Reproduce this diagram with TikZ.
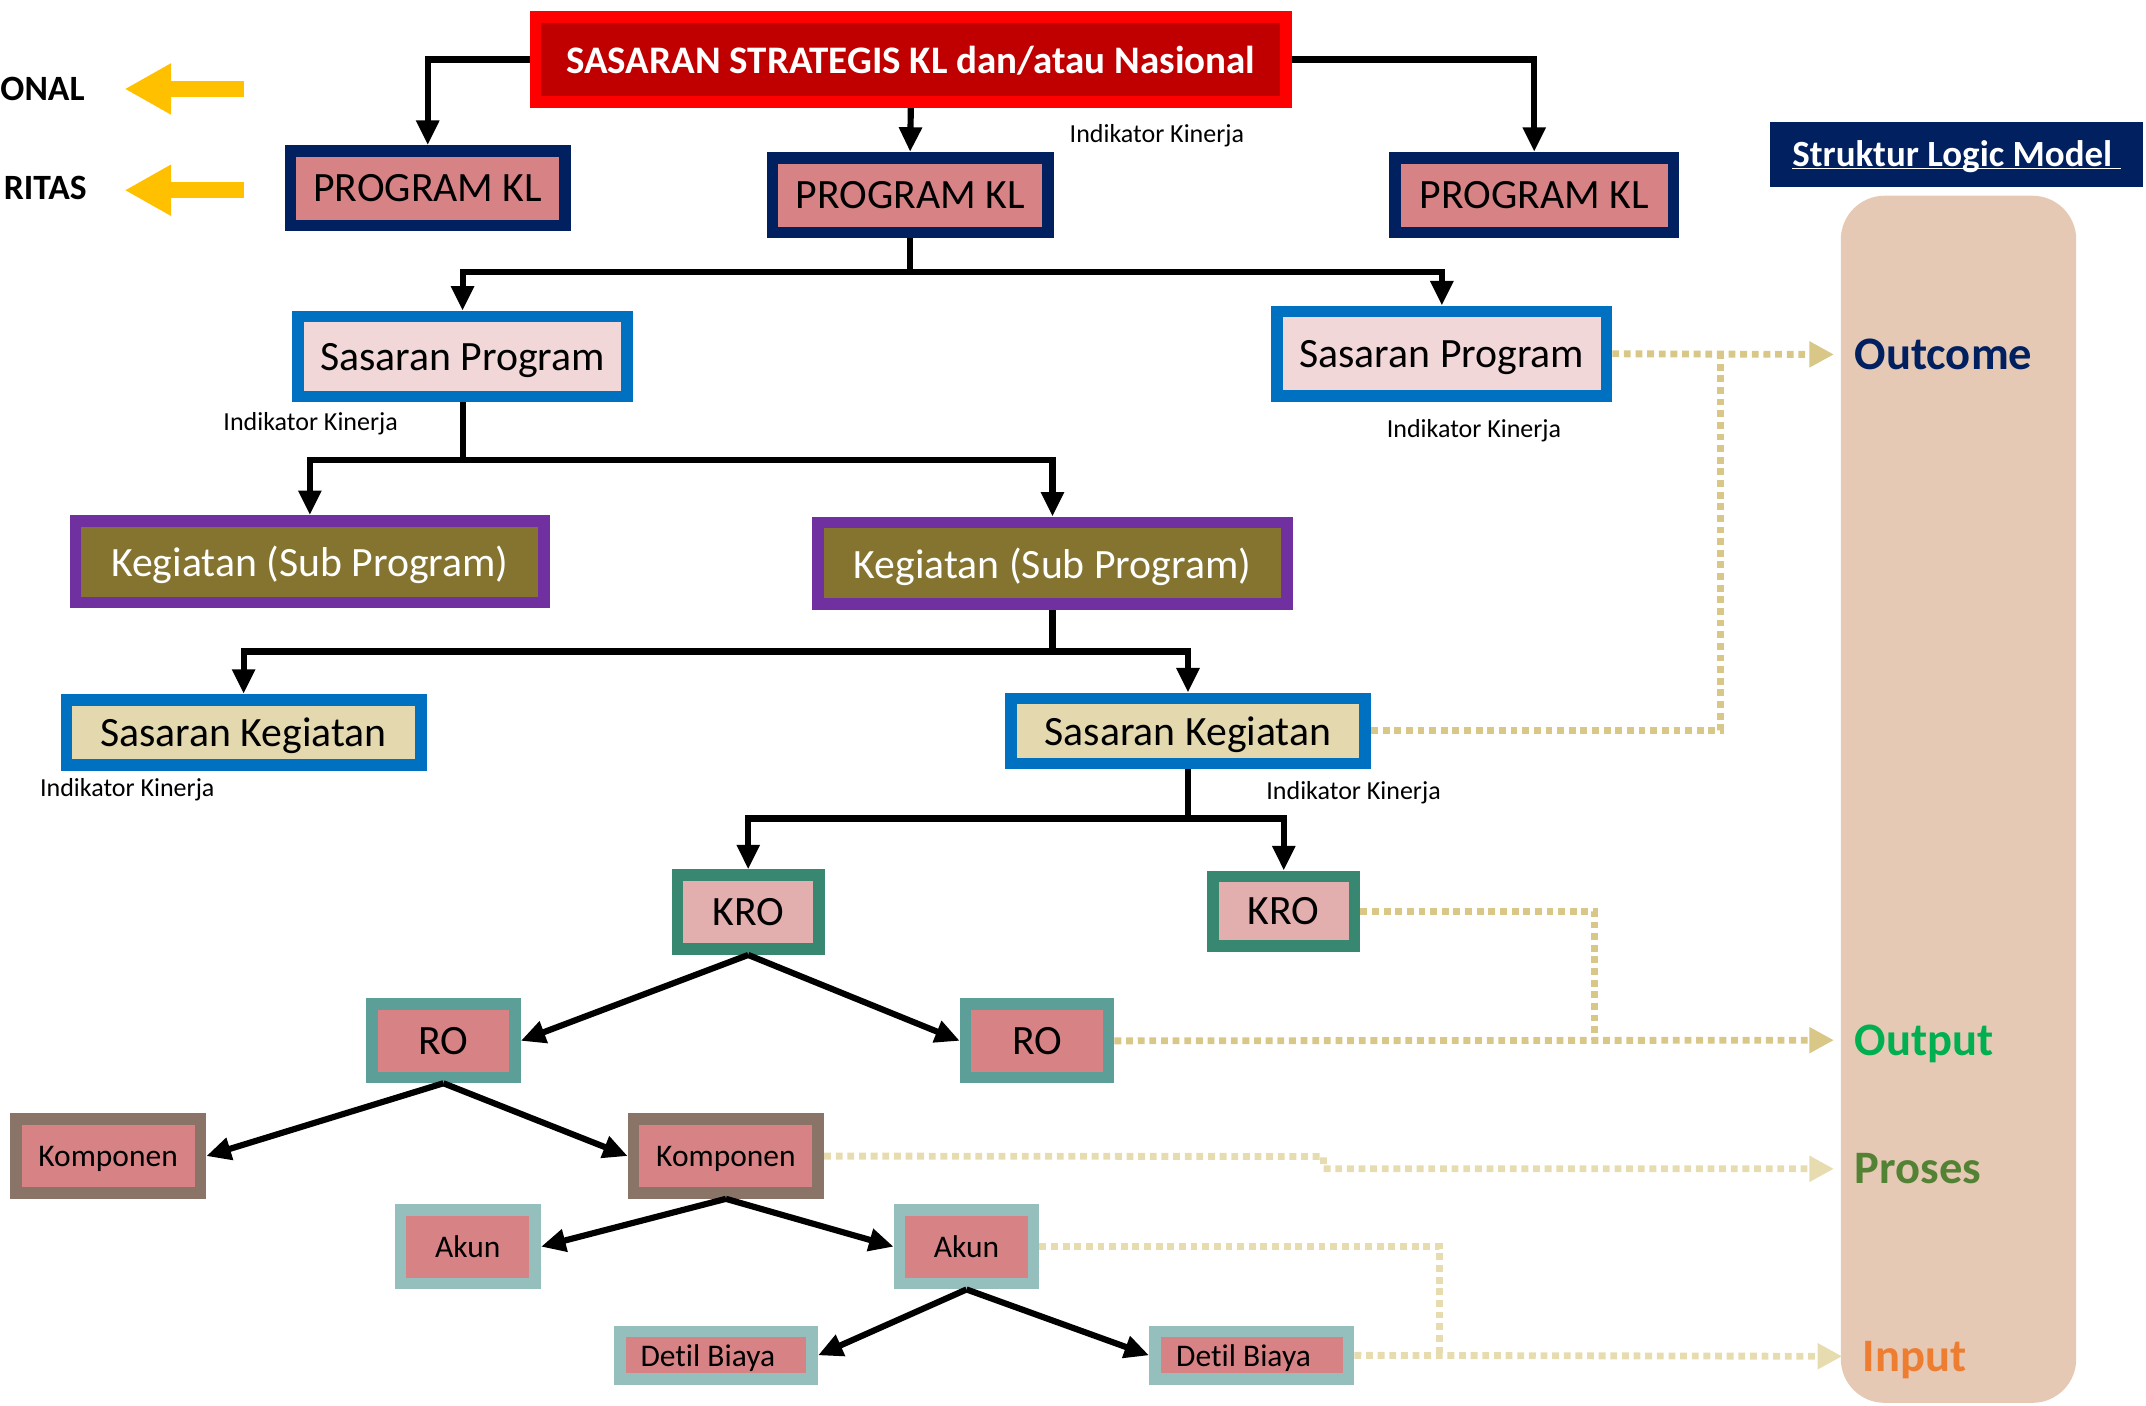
\documentclass[tikz,border=0pt]{standalone}
\usepackage{fontspec}
\setmainfont{Carlito}[Ligatures=NoCommon]
\usepackage{tikz}
\usetikzlibrary{%
  arrows.meta%
}

\definecolor{biruTua}{RGB}{0,32,96}
\definecolor{merahTua}{RGB}{192,0,0}
\definecolor{merah}{RGB}{255,0,0}
\definecolor{merahMuda}{RGB}{215,131,133}
\definecolor{biru}{RGB}{0,112,192}
\definecolor{pinkMuda}{RGB}{242,215,217}
\definecolor{ungu}{RGB}{112,48,160}
\definecolor{zaitun}{RGB}{133,116,48}
\definecolor{krem}{RGB}{228,217,174}
\definecolor{hijauKRO}{RGB}{56,135,112}
\definecolor{pinkKRO}{RGB}{227,174,174}
\definecolor{tealRO}{RGB}{92,158,152}
\definecolor{coklat}{RGB}{138,116,104}
\definecolor{tealMuda}{RGB}{149,191,189}
\definecolor{persik}{RGB}{230,201,181}
\definecolor{emas}{RGB}{255,192,0}
\definecolor{tanTua}{RGB}{216,199,134}
\definecolor{tanMuda}{RGB}{230,220,175}
\definecolor{hijauOut}{RGB}{0,176,80}
\definecolor{hijauPro}{RGB}{84,130,53}
\definecolor{oranye}{RGB}{237,125,49}

\newcommand{\ukf}[1]{\fontsize{#1}{#1}\selectfont}

\tikzset{
  kotak/.style={draw, line width=8.5pt, inner sep=0pt, text depth=0pt, font=\ukf{30.5}},
  ukuran/.style 2 args={minimum width=#1pt, minimum height=#2pt},
  kecil/.style={kotak, font=\ukf{23}},
  panah/.style={line width=4.5pt, -{Triangle[length=18pt,width=16pt]}},
  titik/.style={draw=tanTua, line width=5pt, dash pattern=on 5pt off 3.5pt},
  titikmuda/.style={titik, draw=tanMuda},
  ujung/.style={-{Triangle[length=18pt,width=18pt]}},
  ik/.style={inner sep=0pt, text depth=0pt, font=\ukf{19}},
  lm/.style={anchor=west, inner xsep=15pt, inner ysep=0pt, text depth=0pt, font=\bfseries\ukf{34}},
  kiri/.style={anchor=east, inner sep=0pt, text depth=0pt, font=\bfseries\ukf{26}},
  kuning/.style={draw=emas, line width=11.5pt, -{Triangle[length=34pt,width=35pt]}}
}

\begin{document}
\begin{tikzpicture}[x=1pt,y=-1pt]
    \useasboundingbox (0,0) rectangle (1568,1027);

    % logic model bar
    \fill[persik, rounded corners=32pt] (1345,143) rectangle (1517,1025);
    \node[fill=biruTua, ukuran={273}{47}, inner sep=0pt, text=white, font=\bfseries\ukf{27},
      text height=17.8pt, text depth=0pt] (judul) at (1429.5,112.9)
      {\underline{\smash{Struktur Logic Model}\ }};

    % left side
    \node[kiri] (onal) at (62,65) {ONAL};
    \node[kiri] (ritas) at (63.5,137) {RITAS};
    \coordinate (y1a) at (178,65);
    \coordinate (y1b) at (91,65);
    \coordinate (y2a) at (178,139);
    \coordinate (y2b) at (91,139);
    \draw[kuning] (y1a) -- (y1b);
    \draw[kuning] (y2a) -- (y2b);

    % nodes
    \node[kotak, draw=merah, fill=merahTua, text=white, font=\bfseries\ukf{28.5}, ukuran={548.5}{62.5}]
      (ssk) at (665.5,43.5) {SASARAN STRATEGIS KL dan/atau Nasional};
    \node[kotak, draw=biruTua, fill=merahMuda, ukuran={200.5}{54.5}] (pk1) at (312.5,137.5) {PROGRAM KL};
    \node[kotak, draw=biruTua, fill=merahMuda, ukuran={201}{54.5}] (pk2) at (665,142.5) {PROGRAM KL};
    \node[kotak, draw=biruTua, fill=merahMuda, ukuran={203.5}{54.5}] (pk3) at (1121,142.5) {PROGRAM KL};

    \node[kotak, draw=biru, fill=pinkMuda, ukuran={240.5}{58.5}] (sp1) at (338,260.5) {Sasaran Program};
    \node[kotak, draw=biru, fill=pinkMuda, ukuran={240.5}{62}] (sp2) at (1053.5,258.5) {Sasaran Program};

    \node[kotak, draw=ungu, fill=zaitun, text=white, ukuran={342.5}{59.5}] (kg1) at (226.4,410.4) {Kegiatan (Sub Program)};
    \node[kotak, draw=ungu, fill=zaitun, text=white, ukuran={343}{59.5}] (kg2) at (769,411.5) {Kegiatan (Sub Program)};

    \node[kotak, draw=biru, fill=krem, ukuran={259}{47.5}] (sk1) at (178,535) {Sasaran Kegiatan};
    \node[kotak, draw=biru, fill=krem, ukuran={259}{47.5}] (sk2) at (868,534) {Sasaran Kegiatan};

    \node[kotak, draw=hijauKRO, fill=pinkKRO, ukuran={103.5}{54}] (kro1) at (546.7,666.5) {KRO};
    \node[kotak, draw=hijauKRO, fill=pinkKRO, ukuran={103.5}{51}] (kro2) at (938,665.8) {KRO};

    \node[kotak, draw=tealRO, fill=merahMuda, ukuran={104.5}{53.5}] (ro1) at (324,760.5) {RO};
    \node[kotak, draw=tealRO, fill=merahMuda, ukuran={104.5}{53.5}] (ro2) at (757.8,760.5) {RO};

    \node[kecil, draw=coklat, fill=merahMuda, ukuran={135}{54}] (kp1) at (79,844.7) {Komponen};
    \node[kecil, draw=coklat, fill=merahMuda, ukuran={135}{54}] (kp2) at (530.4,844.7) {Komponen};

    \node[kecil, draw=tealMuda, fill=merahMuda, ukuran={98.5}{54}] (ak1) at (341.8,910.9) {Akun};
    \node[kecil, draw=tealMuda, fill=merahMuda, ukuran={98}{54}] (ak2) at (706.2,910.9) {Akun};

    \node[kecil, draw=tealMuda, fill=merahMuda, ukuran={140.5}{35}] (db1) at (523.2,990.3) {Detil Biaya\hspace*{12pt}};
    \node[kecil, draw=tealMuda, fill=merahMuda, ukuran={141.5}{35}] (db2) at (914.6,990.3) {Detil Biaya\hspace*{12pt}};

    % indikator
    \node[ik] (ik1) at (845.3,97.4) {Indikator Kinerja};
    \node[ik] (ik2) at (227,308) {Indikator Kinerja};
    \node[ik] (ik3) at (1077,313) {Indikator Kinerja};
    \node[ik] (ik4) at (93,575.3) {Indikator Kinerja};
    \node[ik] (ik5) at (989,577.2) {Indikator Kinerja};

    % labels of the bar
    \node[lm, text=biruTua] (outcome) at (1340,259) {Outcome};
    \node[lm, text=hijauOut] (output) at (1340,760) {Output};
    \node[lm, text=hijauPro] (proses) at (1340,854) {Proses};
    \node[lm, text=oranye] (input) at (1346,991) {Input};

    % black connectors
    \coordinate (j1) at (665,199);
    \coordinate (j2) at (338,336);
    \coordinate (j3) at (769,476);
    \coordinate (j4) at (868,598);
    \draw[panah] (ssk.west) -| (pk1.north);
    \draw[panah] (ssk.south) -- (pk2.north);
    \draw[panah] (ssk.east) -| (pk3.north);
    \draw[panah] (pk2.south) -- (j1) -| (sp1.north);
    \draw[panah] (j1) -| (sp2.north);
    \draw[panah] (sp1.south) -- (j2) -| (kg1.north);
    \draw[panah] (j2) -| (kg2.north);
    \draw[panah] (kg2.south) -- (j3) -| (sk1.north);
    \draw[panah] (j3) -| (sk2.north);
    \draw[panah] (sk2.south) -- (j4) -| (kro1.north);
    \draw[panah] (j4) -| (kro2.north);
    \draw[panah] (kro1.south) -- (ro1.east);
    \draw[panah] (kro1.south) -- (ro2.west);
    \draw[panah] (ro1.south) -- (kp1.east);
    \draw[panah] (ro1.south) -- (kp2.west);
    \draw[panah] (kp2.south) -- (ak1.east);
    \draw[panah] (kp2.south) -- (ak2.west);
    \draw[panah] (ak2.south) -- (db1.east);
    \draw[panah] (ak2.south) -- (db2.west);

    % dotted connectors
    \coordinate (b1) at (1257,259);
    \coordinate (b2) at (1165,760);
    \coordinate (b3) at (967,845);
    \coordinate (b4) at (1052,991);
    \draw[titik, ujung] (sp2.east) -- (outcome.west);
    \draw[titik] (sk2.east) -| (b1);
    \draw[titik] (kro2.east) -| (b2);
    \draw[titik, ujung] (ro2.east) -- (output.west);
    \draw[titikmuda, ujung] (kp2.east) -- (b3) |- (proses.west);
    \draw[titikmuda] (ak2.east) -| (b4);
    \draw[titikmuda, ujung] (db2.east) -- (input.west);
\end{tikzpicture}
\end{document}
